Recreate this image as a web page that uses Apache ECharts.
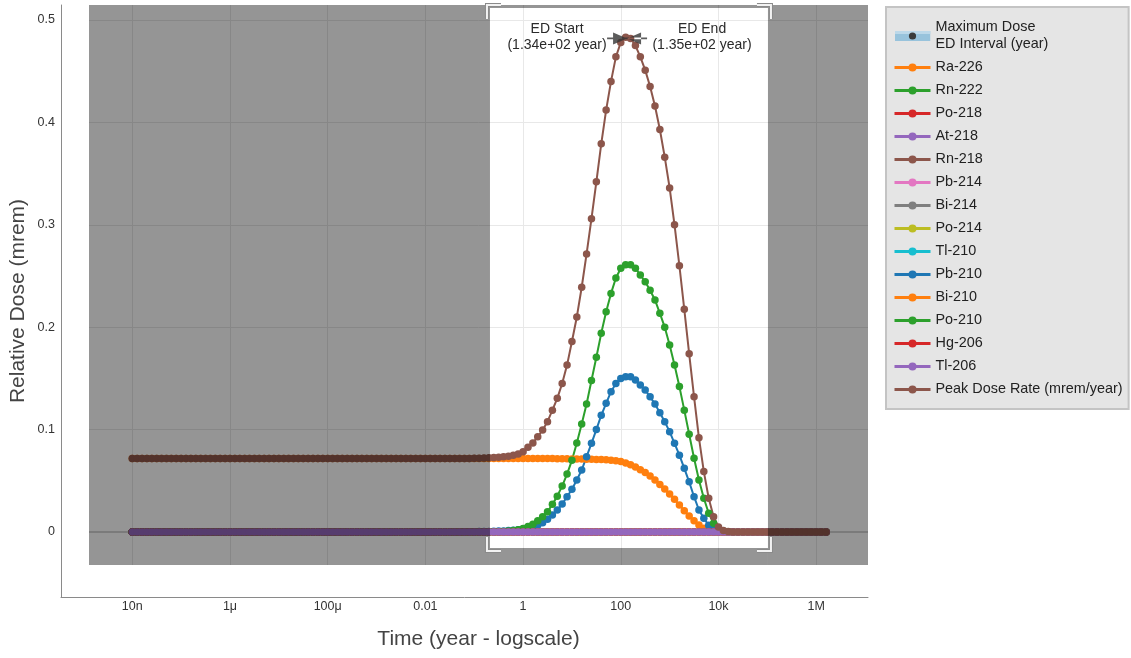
<!DOCTYPE html>
<html><head><meta charset="utf-8">
<script src="https://cdn.jsdelivr.net/npm/echarts@6/dist/echarts.min.js"></script>
<style>html,body{margin:0;padding:0;background:#fff}#c{width:1131px;height:658px}</style>
</head><body><div id="c"></div>
<script>
// ---- data ----
const times = [
1e-8,1.259e-8,1.585e-8,1.995e-8,2.512e-8,3.162e-8,3.981e-8,5.012e-8,6.31e-8,7.943e-8,
1e-7,1.259e-7,1.585e-7,1.995e-7,2.512e-7,3.162e-7,3.981e-7,5.012e-7,6.31e-7,7.943e-7,
1e-6,1.259e-6,1.585e-6,1.995e-6,2.512e-6,3.162e-6,3.981e-6,5.012e-6,6.31e-6,7.943e-6,
1e-5,1.259e-5,1.585e-5,1.995e-5,2.512e-5,3.162e-5,3.981e-5,5.012e-5,6.31e-5,7.943e-5,
1e-4,1.259e-4,1.585e-4,1.995e-4,2.512e-4,3.162e-4,3.981e-4,5.012e-4,6.31e-4,7.943e-4,
1e-3,1.259e-3,1.585e-3,1.995e-3,2.512e-3,3.162e-3,3.981e-3,5.012e-3,6.31e-3,7.943e-3,
0.01,0.01259,0.01585,0.01995,0.02512,0.03162,0.03981,0.05012,0.0631,0.07943,
0.1,0.1259,0.1585,0.1995,0.2512,0.3162,0.3981,0.5012,0.631,0.7943,
1,1.259,1.585,1.995,2.512,3.162,3.981,5.012,6.31,7.943,
10,12.59,15.85,19.95,25.12,31.62,39.81,50.12,63.1,79.43,
100,125.9,158.5,199.5,251.2,316.2,398.1,501.2,631,794.3,
1000,1259,1585,1995,2512,3162,3981,5012,6310,7943,
1e4,1.259e4,1.585e4,1.995e4,2.512e4,3.162e4,3.981e4,5.012e4,6.31e4,7.943e4,
1e5,1.259e5,1.585e5,1.995e5,2.512e5,3.162e5,3.981e5,5.012e5,6.31e5,7.943e5,
1e6,1.259e6,1.585e6
];
const raDose = [
0.0718,0.0718,0.0718,0.0718,0.0718,0.0718,0.0718,0.0718,0.0718,0.0718,
0.0718,0.0718,0.0718,0.0718,0.0718,0.0718,0.0718,0.0718,0.0718,0.0718,
0.0718,0.0718,0.0718,0.0718,0.0718,0.0718,0.0718,0.0718,0.0718,0.0718,
0.0718,0.0718,0.0718,0.0718,0.0718,0.0718,0.0718,0.0718,0.0718,0.0718,
0.0718,0.0718,0.0718,0.0718,0.0718,0.0718,0.0718,0.0718,0.0718,0.0718,
0.0718,0.0718,0.0718,0.0718,0.0718,0.0718,0.0718,0.0718,0.0718,0.0718,
0.0718,0.0718,0.0718,0.0718,0.0718,0.0718,0.0718,0.0718,0.0718,0.0718,
0.0718,0.0718,0.0718,0.0718,0.0718,0.0718,0.0718,0.0718,0.0718,0.0718,
0.0718,0.0718,0.0718,0.0718,0.0718,0.0718,
0.0717,0.0716,0.0716,0.0715,0.0714,0.0713,0.0712,0.0711,0.0710,0.0709,
0.0707,0.0705,0.0702,0.0697,0.0688,0.0675,0.0658,0.0636,0.0608,0.0580,
0.0547,0.0508,0.0465,0.0420,0.0371,0.0319,0.0264,0.0208,0.0156,0.0110,
0.0068,0.0036,0.0018,0.0008,0.0003,0.0001,
0,0,0,0,0,0,0,0,0,0,0,0,0,0,0,0,0,0,0,0,0
];
const po210Dose = [
0,0,0,0,0,0,0,0,0,0,0,0,0,0,0,0,0,0,0,0,
0,0,0,0,0,0,0,0,0,0,0,0,0,0,0,0,0,0,0,0,
0,0,0,0,0,0,0,0,0,0,0,0,0,0,0,0,0,0,0,0,
0,0,0,0,0,0,0,0,0,0,0,0,0,
0.0001,0.0002,0.0003,0.0005,0.0009,0.0014,0.0022,
0.0035,0.0055,0.0077,0.011,0.015,0.0198,0.027,0.035,0.0449,0.0566,
0.070,0.087,0.1055,0.125,0.148,0.1706,0.194,0.215,0.233,0.248,
0.2575,0.261,0.261,0.2575,0.251,0.2444,0.236,0.2266,0.2135,0.200,
0.1826,0.163,0.142,0.119,0.0954,0.072,0.0508,0.033,0.0183,0.0085,
0.003,0.001,0.0003,
0,0,0,0,0,0,0,0,0,0,0,0,0,0,0,0,0,0,0,0
];
const pb210Dose = [
0,0,0,0,0,0,0,0,0,0,0,0,0,0,0,0,0,0,0,0,
0,0,0,0,0,0,0,0,0,0,0,0,0,0,0,0,0,0,0,0,
0,0,0,0,0,0,0,0,0,0,0,0,0,0,0,0,0,0,0,0,
0,0,0,0,0,
0.0001,0.0001,0.0001,0.0002,0.0002,
0.0003,0.0004,0.0004,0.0006,0.0007,0.0009,0.0011,0.0014,0.0018,0.0023,
0.0029,0.0037,0.0048,0.0065,0.009,0.0124,0.0166,0.0215,0.0273,0.0345,
0.0417,0.0508,0.0605,0.0736,0.0866,0.100,0.114,0.1257,0.137,0.145,
0.150,0.1517,0.1515,0.1484,0.1436,0.1387,0.132,0.125,0.1165,0.1077,
0.098,0.0866,0.075,0.0622,0.049,0.0345,0.0215,0.0134,0.0065,0.003,
0.001,0.0003,
0,0,0,0,0,0,0,0,0,0,0,0,0,0,0,0,0,0,0,0,0
];
const peakDose = [
0.0718,0.0718,0.0718,0.0718,0.0718,0.0718,0.0718,0.0718,0.0718,0.0718,
0.0718,0.0718,0.0718,0.0718,0.0718,0.0718,0.0718,0.0718,0.0718,0.0718,
0.0718,0.0718,0.0718,0.0718,0.0718,0.0718,0.0718,0.0718,0.0718,0.0718,
0.0718,0.0718,0.0718,0.0718,0.0718,0.0718,0.0718,0.0718,0.0718,0.0718,
0.0718,0.0718,0.0718,0.0718,0.0718,0.0718,0.0718,0.0718,0.0718,0.0718,
0.0718,0.0718,0.0718,0.0718,0.0718,0.0718,0.0718,0.0718,0.0718,0.0718,
0.0718,0.0718,0.0718,0.0718,0.0718,0.0718,0.0718,0.0718,0.0718,
0.0719,0.0720,0.0721,0.0722,
0.0724,0.0727,0.0730,0.0734,0.0741,0.0750,0.0763,0.0785,0.0827,0.0870,
0.0930,0.0996,0.1077,0.1190,0.1305,0.1450,0.1630,0.1860,0.2100,0.2390,
0.2715,0.3060,0.3420,0.3790,0.4120,0.4400,0.4640,0.4780,0.4830,0.4820,
0.4750,0.4640,0.4510,0.4350,0.4160,0.3930,0.3660,0.3360,0.3000,0.2600,
0.2175,0.1740,0.1320,0.0920,0.0590,0.0330,0.0150,0.0050,0.0015,0.0004,
0,0,0,0,0,0,0,0,0,0,0,0,0,0,0,0,0,0,0,0
];
const zeroDose = [
0,0,0,0,0,0,0,0,0,0,0,0,0,0,0,0,0,0,0,0,
0,0,0,0,0,0,0,0,0,0,0,0,0,0,0,0,0,0,0,0,
0,0,0,0,0,0,0,0,0,0,0,0,0,0,0,0,0,0,0,0,
0,0,0,0,0,0,0,0,0,0,0,0,0,0,0,0,0,0,0,0,
0,0,0,0,0,0,0,0,0,0,0,0,0,0,0,0,0,0,0,0,
0,0,0,0,0,0,0,0,0,0,0,0,0,0,0,0,0,0,0,0,
0,0,0,0,0,0,0,0,0,0,0,0,0,0,0,0,0,0,0,0,
0,0,0
];
const nuclides = ['Ra-226','Rn-222','Po-218','At-218','Rn-218','Pb-214','Bi-214','Po-214','Tl-210','Pb-210','Bi-210','Po-210','Hg-206','Tl-206','Peak Dose Rate (mrem/year)'];
const nuclideColors = ['#ff7f0e','#2ca02c','#d62728','#9467bd','#8c564b','#e377c2','#7f7f7f','#bcbd22','#17becf','#1f77b4','#ff7f0e','#2ca02c','#d62728','#9467bd','#8c564b'];
const nuclideDose = [raDose, zeroDose, zeroDose, zeroDose, zeroDose, zeroDose, zeroDose, zeroDose, zeroDose, pb210Dose, zeroDose, po210Dose, zeroDose, zeroDose, peakDose];
const xTickValues = [1e-8, 1e-6, 1e-4, 1e-2, 1, 100, 1e4, 1e6];
const xTickLabels = ['10n', '1μ', '100μ', '0.01', '1', '100', '10k', '1M'];
const maxDoseName = 'Maximum Dose\nED Interval (year)';
const maxDoseTime = 134.5;
const maxDoseValue = 0.482;
const edStartLabel = 'ED Start\n(1.34e+02 year)';
const edEndLabel = 'ED End\n(1.35e+02 year)';
const edBoxTime = [0.21, 1.03e5];
const edBoxDose = [-0.0156, 0.5117];
const xRange = [1.3e-9, 1.15e7];
const yRange = [-0.0322, 0.5146];

// ---- chart ----
const FONT = "'Liberation Sans', Arial, sans-serif";
const chart = echarts.init(document.getElementById('c'), null, {renderer: 'canvas'});
const svgIcon = "<svg xmlns='http://www.w3.org/2000/svg' width='36' height='10'><rect x='0' y='0' width='36' height='10' fill='#86bbdb'/><rect x='0' y='0' width='36' height='3' fill='#b3d6ea'/><circle cx='18' cy='5' r='3.6' fill='#111'/></svg>";
const legendIcon = 'image://data:image/svg+xml;charset=utf-8,' + encodeURIComponent(svgIcon);

const series = [];
series.push({
  type: 'line', data: [], xAxisIndex: 0, yAxisIndex: 0, silent: true,
  markLine: { z: 1, silent: true, symbol: 'none', animation: false, label: {show: false},
    lineStyle: {color: '#d2d2d2', width: 2, type: 'solid'}, data: [{yAxis: 0}] }
});
nuclides.forEach((n, i) => {
  series.push({
    name: n, type: 'line', xAxisIndex: 0, yAxisIndex: 0,
    data: times.map((t, j) => [t, nuclideDose[i][j]]),
    symbol: 'circle', symbolSize: 7.5, showAllSymbol: true,
    lineStyle: {color: nuclideColors[i], width: 2},
    itemStyle: {color: nuclideColors[i]},
    emphasis: {disabled: true}, z: 2
  });
});
series.push({
  type: 'line', data: [], xAxisIndex: 0, yAxisIndex: 0, silent: true,
  markArea: { z: 10, silent: true, animation: false, itemStyle: {color: 'rgba(0,0,0,0.415)'}, label: {show: false},
    data: [
      [{xAxis: xRange[0], yAxis: yRange[0]}, {xAxis: edBoxTime[0], yAxis: yRange[1]}],
      [{xAxis: edBoxTime[1], yAxis: yRange[0]}, {xAxis: xRange[1], yAxis: yRange[1]}],
      [{xAxis: edBoxTime[0], yAxis: edBoxDose[1]}, {xAxis: edBoxTime[1], yAxis: yRange[1]}],
      [{xAxis: edBoxTime[0], yAxis: yRange[0]}, {xAxis: edBoxTime[1], yAxis: edBoxDose[0]}]
    ] }
});
series.push({
  name: maxDoseName, type: 'scatter', xAxisIndex: 0, yAxisIndex: 0, z: 12,
  data: [[maxDoseTime, maxDoseValue]],
  symbol: 'path://M0,4.3 H40 V5.7 H0 Z M6,0 L20,5 L6,10 Z M34,0 L20,5 L34,10 Z',
  symbolSize: [40, 12], itemStyle: {color: '#333'}, emphasis: {disabled: true}
});

const option = {
  animation: false,
  backgroundColor: '#ffffff',
  textStyle: {fontFamily: FONT},
  grid: [
    {left: 89, right: 263, top: 5, bottom: 93},
    {left: 60, right: 263, top: 5, bottom: 61}
  ],
  xAxis: [
    { type: 'log', logBase: 100, gridIndex: 0, min: xRange[0], max: xRange[1],
      axisLine: {show: false}, axisTick: {show: false},
      axisLabel: { margin: 35, fontSize: 12.5, color: '#333', fontFamily: FONT, showMinLabel: false, showMaxLabel: false,
        formatter: function (v) {
          const i = xTickValues.findIndex(tv => Math.abs(Math.log10(tv) - Math.log10(v)) < 0.01);
          return i >= 0 ? xTickLabels[i] : '';
        } },
      splitLine: {show: true, showMinLine: false, showMaxLine: false, lineStyle: {color: '#e8e8e8', width: 1}},
      name: 'Time (year - logscale)', nameLocation: 'middle', nameGap: 64,
      nameTextStyle: {fontSize: 21, color: '#444', fontFamily: FONT} },
    { type: 'value', gridIndex: 1, min: 0, max: 1,
      axisLine: {show: true, onZero: false, lineStyle: {color: '#8a8a8a', width: 1}},
      axisTick: {show: false}, axisLabel: {show: false}, splitLine: {show: false} }
  ],
  yAxis: [
    { type: 'value', gridIndex: 0, min: yRange[0], max: yRange[1], splitNumber: 5,
      axisLine: {show: false}, axisTick: {show: false},
      axisLabel: { margin: 34, fontSize: 12.5, color: '#333', fontFamily: FONT, showMinLabel: false, showMaxLabel: false },
      splitLine: {show: true, showMinLine: false, showMaxLine: false, lineStyle: {color: '#e8e8e8', width: 1}} },
    { type: 'value', gridIndex: 1, min: 0, max: 1,
      axisLine: {show: true, onZero: false, lineStyle: {color: '#8a8a8a', width: 1}},
      axisTick: {show: false}, axisLabel: {show: false}, splitLine: {show: false},
      name: 'Relative Dose (mrem)', nameLocation: 'middle', nameGap: 32, nameRotate: 90,
      nameTextStyle: {fontSize: 21, color: '#444', fontFamily: FONT} }
  ],
  legend: {
    orient: 'vertical', left: 886, top: 7,
    itemWidth: 36, itemHeight: 10, itemGap: 6, itemTextGap: 7,
    padding: [12, 6, 11, 7],
    backgroundColor: '#e5e5e5', borderColor: '#c4c4c4', borderWidth: 2, borderRadius: 0,
    selectedMode: false,
    lineStyle: {width: 3},
    textStyle: {fontSize: 14.4, color: '#222', lineHeight: 17, fontFamily: FONT},
    data: [{name: maxDoseName, icon: legendIcon}].concat(nuclides.map(n => ({name: n})))
  },
  series: series
};
chart.setOption(option);

// decorations anchored through the axes' own scales
const px = (t, v) => chart.convertToPixel({xAxisIndex: 0, yAxisIndex: 0}, [t, v]);
const tl = px(edBoxTime[0], edBoxDose[1]);
const br = px(edBoxTime[1], edBoxDose[0]);
const arm = 14, o = 3;
const corners = [
  [[tl[0] - o + arm, tl[1] - o], [tl[0] - o, tl[1] - o], [tl[0] - o, tl[1] - o + arm]],
  [[br[0] + o - arm, tl[1] - o], [br[0] + o, tl[1] - o], [br[0] + o, tl[1] - o + arm]],
  [[tl[0] - o, br[1] + o - arm], [tl[0] - o, br[1] + o], [tl[0] - o + arm, br[1] + o]],
  [[br[0] + o, br[1] + o - arm], [br[0] + o, br[1] + o], [br[0] + o - arm, br[1] + o]]
];
const graphics = [];
corners.forEach(pts => {
  graphics.push({type: 'polyline', z: 30, silent: true, shape: {points: pts}, style: {stroke: '#8a8a8a', lineWidth: 4, fill: null}});
  graphics.push({type: 'polyline', z: 31, silent: true, shape: {points: pts}, style: {stroke: '#f2f2f2', lineWidth: 2, fill: null}});
});
const mp = px(maxDoseTime, maxDoseValue);
graphics.push({type: 'text', z: 32, silent: true, x: mp[0] - 70, y: mp[1] - 1,
  style: {text: edStartLabel, font: '14px ' + FONT, fill: '#2a2a2a', align: 'center', verticalAlign: 'middle', lineHeight: 16}});
graphics.push({type: 'text', z: 32, silent: true, x: mp[0] + 75, y: mp[1] - 1,
  style: {text: edEndLabel, font: '14px ' + FONT, fill: '#2a2a2a', align: 'center', verticalAlign: 'middle', lineHeight: 16}});
chart.setOption({graphic: graphics});
</script>
</body></html>
